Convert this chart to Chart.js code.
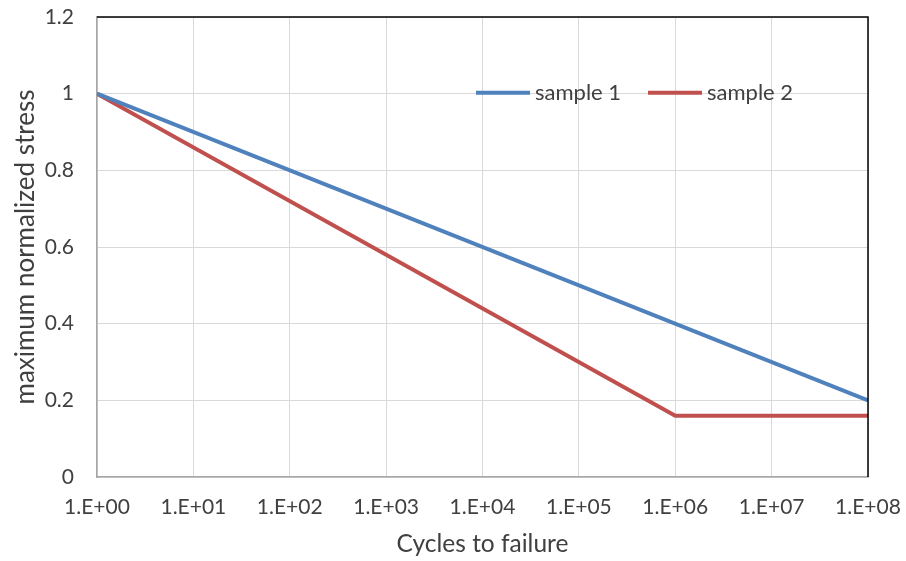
<!DOCTYPE html>
<html>
<head>
<meta charset="utf-8">
<script src="https://cdn.jsdelivr.net/npm/chart.js@4/dist/chart.umd.min.js"></script>
<style>
html, body { margin: 0; padding: 0; background: #fff; }
</style>
</head>
<body>
<canvas id="fatigueChart" width="906" height="561"></canvas>
<script>

/* S-N DATA */

const cyclesSample1 = [1, 1e8];
const stressSample1 = [1, 0.2];

const cyclesSample2 = [1, 1e6, 1e8];
const stressSample2 = [1, 0.16, 0.16];

const seriesNames = ["sample 1", "sample 2"];
const seriesColors = ["#4F81BD", "#C0504D"];

const xTicks = [1, 1e1, 1e2, 1e3, 1e4, 1e5, 1e6, 1e7, 1e8];
const yTicks = [0, 0.2, 0.4, 0.6, 0.8, 1, 1.2];

const FONT = "Lato, 'Open Sans', sans-serif";
const TEXT = "#404040";

function toPoints(xs, ys) {
return xs.map((x, i) => ({ x: x, y: ys[i] }));
}

function sciLabel(v) {
const exp = Math.round(Math.log10(v));
return "1.E+" + String(exp).padStart(2, "0");
}

/* black frame on top and right, legend inside the plot */

const framePlugin = {
id: "frame",
afterDraw(chart) {
const { ctx, chartArea } = chart;
ctx.save();
ctx.strokeStyle = "#000";
ctx.lineWidth = 1.5;
ctx.beginPath();
ctx.moveTo(chartArea.left, chartArea.top);
ctx.lineTo(chartArea.right, chartArea.top);
ctx.lineTo(chartArea.right, chartArea.bottom);
ctx.stroke();
ctx.restore();
}
};

const legendPlugin = {
id: "insideLegend",
afterDraw(chart) {
const { ctx } = chart;
const y = chart.scales.y.getPixelForValue(1) - 1;
const starts = [476, 648];
ctx.save();
ctx.font = "22px " + FONT;
ctx.textBaseline = "middle";
ctx.fillStyle = TEXT;
chart.data.datasets.forEach((ds, i) => {
const x = starts[i];
ctx.strokeStyle = ds.borderColor;
ctx.lineWidth = 4;
ctx.beginPath();
ctx.moveTo(x, y);
ctx.lineTo(x + 54, y);
ctx.stroke();
ctx.fillText(ds.label, x + 59, y);
});
ctx.restore();
}
};

const ctx = document.getElementById("fatigueChart");

new Chart(ctx, {

type: "line",

data: {
datasets: [{
label: seriesNames[0],
data: toPoints(cyclesSample1, stressSample1),
borderColor: seriesColors[0],
borderWidth: 4,
pointRadius: 0,
tension: 0
}, {
label: seriesNames[1],
data: toPoints(cyclesSample2, stressSample2),
borderColor: seriesColors[1],
borderWidth: 4,
pointRadius: 0,
tension: 0
}]
},

options: {

responsive: false,
animation: false,
devicePixelRatio: 1,

layout: {
padding: { left: 0, right: 38, top: 17, bottom: 0 }
},

plugins: {
legend: { display: false },
tooltip: { enabled: false }
},

scales: {

x: {
type: "logarithmic",
min: 1,
max: 1e8,
afterBuildTicks: axis => {
axis.ticks = xTicks.map(v => ({ value: v }));
},
afterFit: scale => {
scale.height = 84;
scale.paddingLeft = 0;
scale.paddingRight = 0;
},
ticks: {
autoSkip: false,
maxRotation: 0,
padding: 18,
color: TEXT,
font: { family: FONT, size: 21 },
callback: v => sciLabel(v)
},
grid: {
color: "#d9d9d9",
lineWidth: 1,
drawTicks: false
},
border: { color: "#a6a6a6", width: 1.5 },
title: {
display: true,
text: "Cycles to failure",
color: TEXT,
font: { family: FONT, size: 24.5 },
padding: { top: 0, bottom: 2 }
}
},

y: {
min: 0,
max: 1.2,
afterBuildTicks: axis => {
axis.ticks = yTicks.map(v => ({ value: v }));
},
afterFit: scale => {
scale.width = 97;
scale.paddingTop = 0;
scale.paddingBottom = 0;
},
ticks: {
padding: 23,
color: TEXT,
font: { family: FONT, size: 21 },
callback: v => String(Math.round(v * 10) / 10)
},
grid: {
color: "#d9d9d9",
lineWidth: 1,
drawTicks: false
},
border: { color: "#a6a6a6", width: 1.5 },
title: {
display: true,
text: "maximum normalized stress",
color: TEXT,
font: { family: FONT, size: 26 },
padding: { top: 10, bottom: 0 }
}
}

}

},

plugins: [framePlugin, legendPlugin]

});

</script>
</body>
</html>
